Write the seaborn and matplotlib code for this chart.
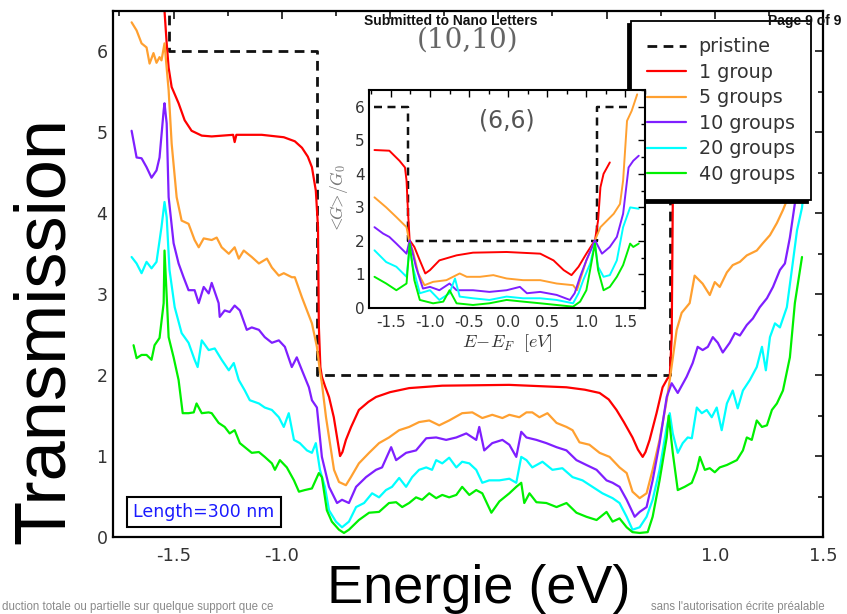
import matplotlib
matplotlib.use("Agg")
import matplotlib.pyplot as plt
import numpy as np
import pandas as pd
import seaborn as sns
from matplotlib.ticker import MultipleLocator, FuncFormatter

# ---------------- data: (energy [eV], transmission) ----------------
# (10,10) tube, main panel
pristine_main = [(-1.78, 10), (-1.523, 10), (-1.523, 6), (-0.838, 6), (-0.838, 2),
                 (0.792, 2), (0.792, 6), (1.42, 6)]

group1_main = [(-1.55, 7.5), (-1.542, 6.5), (-1.532, 6.1), (-1.523, 5.8), (-1.509, 5.56), (-1.477, 5.36),
               (-1.449, 5.15), (-1.417, 5.02), (-1.37, 4.96), (-1.324, 4.95), (-1.225, 4.97), (-1.218, 4.88),
               (-1.21, 4.97), (-1.15, 4.97), (-1.093, 4.97), (-0.991, 4.94), (-0.94, 4.89), (-0.907, 4.81),
               (-0.88, 4.70), (-0.861, 4.57), (-0.843, 4.28), (-0.833, 3.83), (-0.829, 2.6), (-0.822, 2.1),
               (-0.815, 1.98), (-0.80, 1.86), (-0.782, 1.73), (-0.76, 1.48), (-0.74, 1.15), (-0.731, 1.0),
               (-0.72, 1.05), (-0.704, 1.2), (-0.68, 1.36), (-0.644, 1.57), (-0.60, 1.67), (-0.565, 1.73),
               (-0.50, 1.79), (-0.412, 1.84), (-0.259, 1.87), (0.05, 1.88), (0.315, 1.85), (0.40, 1.82),
               (0.468, 1.78), (0.51, 1.70), (0.546, 1.57), (0.58, 1.42), (0.62, 1.23), (0.645, 1.08),
               (0.667, 0.99), (0.68, 1.05), (0.699, 1.2), (0.731, 1.53), (0.759, 1.85), (0.782, 1.96),
               (0.792, 1.98), (0.801, 2.47), (0.806, 4.12), (0.82, 4.7), (0.86, 4.92), (1.38, 4.95)]

group5_main = [(-1.694, 6.36), (-1.671, 6.26), (-1.648, 6.1), (-1.625, 6.05), (-1.611, 5.85), (-1.593, 5.98),
               (-1.579, 5.86), (-1.565, 5.93), (-1.556, 5.89), (-1.542, 6.1), (-1.523, 5.52), (-1.509, 4.86),
               (-1.486, 4.2), (-1.463, 3.91), (-1.431, 3.87), (-1.403, 3.67), (-1.384, 3.58), (-1.361, 3.69),
               (-1.324, 3.67), (-1.301, 3.7), (-1.278, 3.58), (-1.245, 3.5), (-1.218, 3.58), (-1.199, 3.44),
               (-1.176, 3.54), (-1.139, 3.46), (-1.106, 3.38), (-1.069, 3.44), (-1.046, 3.33), (-1.014, 3.23),
               (-0.991, 3.26), (-0.954, 3.21), (-0.94, 3.21), (-0.907, 2.96), (-0.861, 2.64), (-0.838, 2.35),
               (-0.824, 2.05), (-0.815, 1.9), (-0.796, 1.48), (-0.759, 0.83), (-0.736, 0.68), (-0.704, 0.64),
               (-0.681, 0.74), (-0.644, 0.91), (-0.597, 1.04), (-0.551, 1.16), (-0.505, 1.23), (-0.458, 1.32),
               (-0.412, 1.36), (-0.366, 1.42), (-0.319, 1.44), (-0.273, 1.38), (-0.227, 1.44), (-0.167, 1.53),
               (-0.12, 1.54), (-0.074, 1.47), (-0.028, 1.51), (0.019, 1.47), (0.051, 1.51), (0.097, 1.48),
               (0.13, 1.54), (0.157, 1.54), (0.19, 1.48), (0.227, 1.53), (0.269, 1.41), (0.315, 1.36),
               (0.343, 1.32), (0.375, 1.17), (0.421, 1.14), (0.468, 1.04), (0.514, 0.99), (0.56, 0.86),
               (0.593, 0.79), (0.62, 0.56), (0.653, 0.48), (0.685, 0.54), (0.713, 0.83), (0.745, 1.2),
               (0.778, 1.69), (0.792, 1.94), (0.824, 2.56), (0.847, 2.77), (0.884, 2.89), (0.907, 3.23),
               (0.944, 3.13), (0.977, 2.99), (1.0, 3.15), (1.023, 3.09), (1.056, 3.27), (1.083, 3.36),
               (1.116, 3.4), (1.148, 3.48), (1.194, 3.54), (1.222, 3.63), (1.255, 3.73), (1.287, 3.88),
               (1.315, 4.04), (1.333, 4.16), (1.40, 4.7)]

group10_main = [(-1.694, 5.02), (-1.671, 4.69), (-1.648, 4.68), (-1.625, 4.57), (-1.602, 4.44), (-1.579, 4.53),
                (-1.565, 4.69), (-1.546, 5.27), (-1.542, 5.36), (-1.532, 5.11), (-1.523, 4.2), (-1.5, 3.63),
                (-1.477, 3.38), (-1.454, 3.21), (-1.431, 3.05), (-1.403, 3.05), (-1.384, 2.89), (-1.361, 3.09),
                (-1.338, 3.01), (-1.324, 3.14), (-1.292, 2.89), (-1.287, 2.72), (-1.264, 2.8), (-1.241, 2.78),
                (-1.218, 2.86), (-1.194, 2.8), (-1.162, 2.56), (-1.139, 2.59), (-1.106, 2.56), (-1.079, 2.47),
                (-1.046, 2.4), (-1.014, 2.43), (-0.986, 2.35), (-0.954, 2.1), (-0.931, 2.22), (-0.907, 2.06),
                (-0.875, 1.85), (-0.861, 1.69), (-0.838, 1.6), (-0.815, 0.99), (-0.782, 0.62), (-0.745, 0.42),
                (-0.722, 0.46), (-0.69, 0.42), (-0.657, 0.62), (-0.611, 0.74), (-0.565, 0.83), (-0.537, 0.86),
                (-0.495, 1.11), (-0.472, 0.95), (-0.426, 1.04), (-0.38, 1.07), (-0.333, 1.22), (-0.287, 1.23),
                (-0.241, 1.2), (-0.194, 1.23), (-0.148, 1.28), (-0.102, 1.2), (-0.088, 1.36), (-0.065, 1.07),
                (-0.028, 1.16), (0.019, 1.2), (0.051, 1.14), (0.083, 0.99), (0.106, 1.3), (0.13, 1.23),
                (0.176, 1.2), (0.222, 1.16), (0.269, 1.11), (0.315, 1.07), (0.361, 0.95), (0.407, 0.89),
                (0.454, 0.83), (0.5, 0.7), (0.528, 0.67), (0.56, 0.62), (0.593, 0.46), (0.63, 0.25),
                (0.653, 0.31), (0.685, 0.37), (0.713, 0.7), (0.745, 1.16), (0.778, 1.73), (0.801, 1.9),
                (0.829, 1.78), (0.87, 1.98), (0.898, 2.15), (0.921, 2.35), (0.944, 2.31), (0.968, 2.35),
                (0.991, 2.47), (1.014, 2.4), (1.037, 2.28), (1.069, 2.4), (1.093, 2.52), (1.116, 2.49),
                (1.148, 2.62), (1.176, 2.7), (1.208, 2.84), (1.241, 2.95), (1.269, 3.09), (1.301, 3.3),
                (1.324, 3.38), (1.347, 3.7), (1.37, 4.12), (1.40, 4.6)]

group20_main = [(-1.694, 3.46), (-1.671, 3.38), (-1.648, 3.26), (-1.625, 3.4), (-1.602, 3.32), (-1.579, 3.4),
                (-1.556, 3.83), (-1.542, 4.14), (-1.532, 3.95), (-1.519, 3.3), (-1.495, 2.84), (-1.463, 2.52),
                (-1.431, 2.4), (-1.403, 2.19), (-1.389, 2.1), (-1.37, 2.43), (-1.338, 2.31), (-1.31, 2.33),
                (-1.278, 2.19), (-1.245, 2.06), (-1.222, 2.15), (-1.199, 1.94), (-1.171, 1.81), (-1.148, 1.69),
                (-1.106, 1.65), (-1.079, 1.6), (-1.046, 1.57), (-1.014, 1.48), (-0.991, 1.36), (-0.968, 1.53),
                (-0.944, 1.2), (-0.917, 1.16), (-0.884, 1.07), (-0.861, 1.04), (-0.843, 1.16), (-0.824, 0.83),
                (-0.801, 0.62), (-0.782, 0.33), (-0.75, 0.19), (-0.722, 0.12), (-0.69, 0.19), (-0.657, 0.37),
                (-0.62, 0.42), (-0.583, 0.54), (-0.551, 0.49), (-0.519, 0.58), (-0.491, 0.62), (-0.458, 0.73),
                (-0.426, 0.62), (-0.398, 0.74), (-0.366, 0.83), (-0.333, 0.86), (-0.306, 0.83), (-0.287, 0.95),
                (-0.259, 0.91), (-0.227, 0.98), (-0.194, 0.86), (-0.167, 0.93), (-0.134, 0.91), (-0.102, 0.83),
                (-0.074, 0.67), (-0.042, 0.7), (0.005, 0.7), (0.051, 0.72), (0.083, 0.67), (0.106, 0.99),
                (0.13, 0.95), (0.157, 0.86), (0.204, 0.93), (0.25, 0.83), (0.296, 0.85), (0.343, 0.74),
                (0.389, 0.7), (0.435, 0.62), (0.481, 0.54), (0.528, 0.48), (0.56, 0.42), (0.593, 0.25),
                (0.62, 0.09), (0.653, 0.12), (0.685, 0.25), (0.713, 0.46), (0.745, 0.83), (0.778, 1.36),
                (0.792, 1.53), (0.806, 1.28), (0.829, 1.04), (0.852, 1.16), (0.875, 1.23), (0.894, 1.22),
                (0.917, 1.6), (0.94, 1.53), (0.963, 1.57), (0.986, 1.48), (1.009, 1.6), (1.032, 1.32),
                (1.056, 1.65), (1.083, 1.81), (1.106, 1.59), (1.13, 1.81), (1.162, 1.94), (1.194, 2.1),
                (1.218, 2.35), (1.236, 2.06), (1.255, 2.47), (1.278, 2.64), (1.301, 2.59), (1.333, 2.84),
                (1.356, 3.3), (1.38, 3.79), (1.403, 4.07), (1.42, 4.5)]

group40_main = [(-1.685, 2.37), (-1.671, 2.21), (-1.648, 2.25), (-1.625, 2.25), (-1.602, 2.19), (-1.588, 2.37),
                (-1.565, 2.46), (-1.546, 2.89), (-1.542, 3.54), (-1.523, 2.47), (-1.5, 2.22), (-1.477, 1.94),
                (-1.458, 1.53), (-1.431, 1.53), (-1.407, 1.54), (-1.394, 1.65), (-1.37, 1.53), (-1.338, 1.54),
                (-1.324, 1.53), (-1.292, 1.41), (-1.264, 1.36), (-1.241, 1.28), (-1.218, 1.32), (-1.194, 1.16),
                (-1.171, 1.11), (-1.139, 1.04), (-1.106, 1.05), (-1.079, 0.99), (-1.046, 0.91), (-1.032, 0.83),
                (-1.009, 0.95), (-0.977, 0.86), (-0.944, 0.7), (-0.921, 0.56), (-0.894, 0.58), (-0.861, 0.6),
                (-0.829, 0.79), (-0.815, 0.74), (-0.792, 0.33), (-0.769, 0.19), (-0.736, 0.09), (-0.713, 0.05),
                (-0.69, 0.09), (-0.644, 0.21), (-0.597, 0.3), (-0.551, 0.31), (-0.505, 0.42), (-0.472, 0.43),
                (-0.444, 0.37), (-0.412, 0.42), (-0.38, 0.49), (-0.352, 0.46), (-0.319, 0.54), (-0.287, 0.48),
                (-0.259, 0.52), (-0.227, 0.49), (-0.194, 0.52), (-0.167, 0.62), (-0.134, 0.52), (-0.102, 0.58),
                (-0.074, 0.54), (-0.032, 0.3), (0.005, 0.44), (0.051, 0.54), (0.083, 0.62), (0.106, 0.67),
                (0.12, 0.42), (0.144, 0.54), (0.176, 0.43), (0.222, 0.42), (0.269, 0.37), (0.315, 0.42),
                (0.361, 0.3), (0.407, 0.25), (0.454, 0.21), (0.5, 0.31), (0.528, 0.19), (0.56, 0.23),
                (0.593, 0.12), (0.62, 0.06), (0.653, 0.05), (0.69, 0.06), (0.713, 0.25), (0.745, 0.7),
                (0.778, 1.23), (0.787, 1.5), (0.806, 1.04), (0.829, 0.58), (0.861, 0.62), (0.894, 0.67),
                (0.917, 0.83), (0.931, 0.99), (0.954, 0.83), (0.977, 0.85), (1.0, 0.8), (1.023, 0.86),
                (1.056, 0.89), (1.102, 0.95), (1.13, 1.07), (1.148, 1.23), (1.171, 1.2), (1.194, 1.44),
                (1.218, 1.36), (1.241, 1.38), (1.264, 1.57), (1.287, 1.65), (1.315, 1.81), (1.347, 2.22),
                (1.37, 2.89), (1.403, 3.46)]

# (6,6) tube, inset panel
pristine_inset = [(-1.71, 6), (-1.28, 6), (-1.28, 2), (1.14, 2), (1.14, 6), (1.55, 6)]

group1_inset = [(-1.71, 4.71), (-1.52, 4.69), (-1.39, 4.39), (-1.32, 4.19), (-1.30, 3.8), (-1.28, 2.81),
                (-1.26, 2.02), (-1.20, 1.82), (-1.13, 1.42), (-1.06, 1.03), (-1.0, 1.13), (-0.88, 1.42),
                (-0.66, 1.57), (-0.45, 1.65), (-0.02, 1.67), (0.41, 1.62), (0.58, 1.42), (0.71, 1.13),
                (0.81, 0.98), (0.90, 1.23), (1.0, 1.62), (1.11, 2.02), (1.15, 2.61), (1.18, 3.6),
                (1.22, 4.0), (1.30, 4.34)]

group5_inset = [(-1.71, 3.3), (-1.56, 3.0), (-1.43, 2.71), (-1.30, 2.41), (-1.26, 1.92), (-1.22, 1.72),
                (-1.15, 1.03), (-1.07, 0.68), (-0.96, 0.78), (-0.79, 0.83), (-0.62, 1.03), (-0.53, 0.93),
                (-0.36, 0.93), (-0.19, 0.98), (-0.02, 0.88), (0.19, 0.83), (0.41, 0.83), (0.62, 0.73),
                (0.83, 0.68), (0.88, 0.53), (0.92, 0.83), (1.0, 1.42), (1.11, 2.02), (1.18, 2.41),
                (1.35, 2.81), (1.43, 3.1), (1.47, 3.8), (1.52, 5.58), (1.58, 5.88), (1.65, 6.37)]

group10_inset = [(-1.71, 2.41), (-1.60, 2.22), (-1.52, 2.12), (-1.43, 1.92), (-1.30, 1.62), (-1.26, 2.02),
                 (-1.18, 1.23), (-1.09, 0.58), (-1.0, 0.63), (-0.88, 0.53), (-0.75, 0.73), (-0.66, 0.53),
                 (-0.45, 0.53), (-0.24, 0.48), (-0.02, 0.53), (0.15, 0.63), (0.24, 0.44), (0.41, 0.48),
                 (0.62, 0.39), (0.79, 0.24), (0.85, 0.44), (0.92, 0.93), (1.0, 1.42), (1.11, 2.02),
                 (1.20, 1.62), (1.30, 1.82), (1.39, 2.12), (1.47, 2.81), (1.54, 4.19), (1.60, 4.39),
                 (1.67, 4.54)]

group20_inset = [(-1.71, 1.72), (-1.56, 1.37), (-1.43, 1.23), (-1.30, 0.93), (-1.26, 1.82), (-1.22, 1.23),
                 (-1.13, 0.44), (-1.0, 0.53), (-0.88, 0.24), (-0.75, 0.44), (-0.68, 0.88), (-0.62, 0.34),
                 (-0.45, 0.29), (-0.24, 0.24), (-0.02, 0.34), (0.19, 0.29), (0.41, 0.29), (0.62, 0.24),
                 (0.83, 0.14), (0.90, 0.44), (0.96, 0.83), (1.05, 1.33), (1.11, 1.92), (1.15, 1.23),
                 (1.22, 0.93), (1.30, 0.98), (1.39, 1.42), (1.47, 2.41), (1.56, 3.0), (1.67, 2.96)]

group40_inset = [(-1.71, 0.93), (-1.56, 0.73), (-1.43, 0.53), (-1.30, 0.73), (-1.26, 1.92), (-1.20, 0.83),
                 (-1.13, 0.24), (-0.96, 0.14), (-0.83, 0.19), (-0.75, 0.53), (-0.66, 0.14), (-0.45, 0.09),
                 (-0.24, 0.14), (-0.02, 0.24), (0.19, 0.19), (0.41, 0.14), (0.62, 0.09), (0.83, 0.04),
                 (0.92, 0.19), (1.0, 0.53), (1.11, 1.92), (1.15, 1.13), (1.22, 0.53), (1.30, 0.63),
                 (1.39, 0.93), (1.47, 1.28), (1.56, 1.92), (1.60, 1.82), (1.67, 1.92)]

series_labels = ["pristine", "1 group", "5 groups", "10 groups", "20 groups", "40 groups"]
series_colors = ["#111111", "#ff0000", "#ffa030", "#7f1fff", "#00ffff", "#00f000"]
main_sets = [pristine_main, group1_main, group5_main, group10_main, group20_main, group40_main]
inset_sets = [pristine_inset, group1_inset, group5_inset, group10_inset, group20_inset, group40_inset]

main_xticklabels = {-1.5: "-1.5", -1.0: "-1.0", 1.0: "1.0", 1.5: "1.5"}

# ---------------- style ----------------
sns.set_theme(style="white")
plt.rcParams["font.family"] = ["DejaVu Sans"]
plt.rcParams["axes.unicode_minus"] = False

W, H = 847, 614
fig = plt.figure(figsize=(W / 100, H / 100), dpi=100)
fig.patch.set_facecolor("white")

ax = fig.add_axes([113 / W, 77 / H, 710 / W, 526 / H])
ins = fig.add_axes([369 / W, 306 / H, 276 / W, 218 / H])


def to_frame(pairs):
    arr = np.asarray(pairs, dtype=float)
    return pd.DataFrame({"E": arr[:, 0], "T": arr[:, 1]})


def draw_curves(axis, sets, lw, dash):
    handles = []
    for pairs, lab, col in zip(sets, series_labels, series_colors):
        df = to_frame(pairs)
        kw = dict(linestyle=(0, dash), linewidth=lw + 0.4) if lab == "pristine" else dict(linewidth=lw)
        sns.lineplot(data=df, x="E", y="T", ax=axis, estimator=None, sort=False,
                     color=col, label=lab, legend=False, **kw)
        handles.append(axis.lines[-1])
    return handles


handles = draw_curves(ax, main_sets, 1.6, (3.5, 2.3))
draw_curves(ins, inset_sets, 1.4, (3.2, 2.2))

# main axes frame and ticks
ax.set_xlim(-1.78, 1.5)
ax.set_ylim(0, 6.5)
ax.xaxis.set_major_locator(MultipleLocator(0.5))
ax.xaxis.set_minor_locator(MultipleLocator(0.25))
ax.yaxis.set_major_locator(MultipleLocator(1))
ax.yaxis.set_minor_locator(MultipleLocator(0.5))
ax.xaxis.set_major_formatter(FuncFormatter(
    lambda v, p: next((t for k, t in main_xticklabels.items() if abs(k - v) < 1e-6), "")))
ax.yaxis.set_major_formatter(FuncFormatter(lambda v, p: f"{v:.0f}"))
ax.tick_params(which="both", direction="in", top=True, right=True, color="black", width=1.1)
ax.tick_params(which="major", length=6)
ax.tick_params(which="minor", length=3.5)
ax.tick_params(axis="x", which="major", labelsize=13, labelcolor="#333333", pad=7)
ax.tick_params(axis="y", which="major", labelsize=12.5, labelcolor="#333333", pad=4)
for s in ax.spines.values():
    s.set_color("black")
    s.set_linewidth(1.6)
ax.set_xlabel("")
ax.set_ylabel("")

# inset frame and ticks
ins.set_xlim(-1.78, 1.75)
ins.set_ylim(0, 6.5)
ins.set_facecolor("white")
ins.xaxis.set_major_locator(MultipleLocator(0.5))
ins.xaxis.set_minor_locator(MultipleLocator(0.25))
ins.yaxis.set_major_locator(MultipleLocator(1))
ins.yaxis.set_minor_locator(MultipleLocator(0.5))
ins.xaxis.set_major_formatter(FuncFormatter(lambda v, p: f"{v:.1f}"))
ins.yaxis.set_major_formatter(FuncFormatter(lambda v, p: f"{v:.0f}"))
ins.tick_params(which="both", direction="in", top=True, right=True, color="black", width=1.0)
ins.tick_params(which="major", length=5)
ins.tick_params(which="minor", length=3)
ins.tick_params(axis="both", which="major", labelsize=11, labelcolor="#333333")
ins.tick_params(axis="x", pad=5)
ins.tick_params(axis="y", pad=3)
for s in ins.spines.values():
    s.set_color("black")
    s.set_linewidth(1.5)
ins.set_xlabel(r"$E\!-\!E_F\ \ [eV]$", fontsize=13, color="#333333", labelpad=2, math_fontfamily="cm")
ins.set_ylabel(r"$<\!\!G\!\!>\!/G_0$", fontsize=12.5, color="#777777", labelpad=4, math_fontfamily="cm")
ins.text(0.5, 0.86, "(6,6)", transform=ins.transAxes, ha="center", va="center",
         fontsize=17, color="#555555")

# legend
leg = ax.legend(handles, series_labels, loc="upper left",
                bbox_to_anchor=(631 / W, 1 - 21 / H), bbox_transform=fig.transFigure,
                frameon=True, fancybox=False, framealpha=1, edgecolor="black",
                fontsize=13.8, handlelength=2.0, handletextpad=0.68, labelspacing=0.34,
                borderpad=0.85, borderaxespad=0,
                shadow={"ox": -2, "oy": -2, "shade": 1.0, "alpha": 1})
leg.get_frame().set_linewidth(1.3)
for t in leg.get_texts():
    t.set_color("#333333")

# annotations inside the main panel
ax.text(0.5, 0.945, "(10,10)", transform=ax.transAxes, ha="center", va="center",
        fontsize=20, color="#666666", family="DejaVu Serif")
ax.text(133, H - 512, "Length=300 nm", transform=None, fontsize=12.5, color="#1a1aff",
        va="center", ha="left",
        bbox=dict(boxstyle="square,pad=0.36", facecolor="white", edgecolor="black", linewidth=1.5))

# page texts and large axis titles
fig.text(451 / W, 1 - 21 / H, "Submitted to Nano Letters", ha="center", va="center",
         fontsize=10, fontweight="bold", family="Liberation Sans", color="#111111")
fig.text(805 / W, 1 - 21 / H, "Page 9 of 9", ha="center", va="center",
         fontsize=10, fontweight="bold", family="Liberation Sans", color="#111111")
fig.text(45 / W, 1 - 330 / H, "Transmission", rotation=90, ha="center", va="center",
         fontsize=52, family="Liberation Sans", color="black")
fig.text(479 / W, (H - 603) / H, "Energie (eV)", ha="center", va="baseline",
         fontsize=39, family="Liberation Sans", color="black")
fig.text(2 / W, (H - 610) / H, "duction totale ou partielle sur quelque support que ce",
         ha="left", va="baseline", fontsize=8.3, family="Liberation Sans", color="#8a8a8a")
fig.text(651 / W, (H - 610) / H, "sans l'autorisation écrite préalable",
         ha="left", va="baseline", fontsize=8.3, family="Liberation Sans", color="#8a8a8a")

fig.savefig("out.png", dpi=100, facecolor="white")
